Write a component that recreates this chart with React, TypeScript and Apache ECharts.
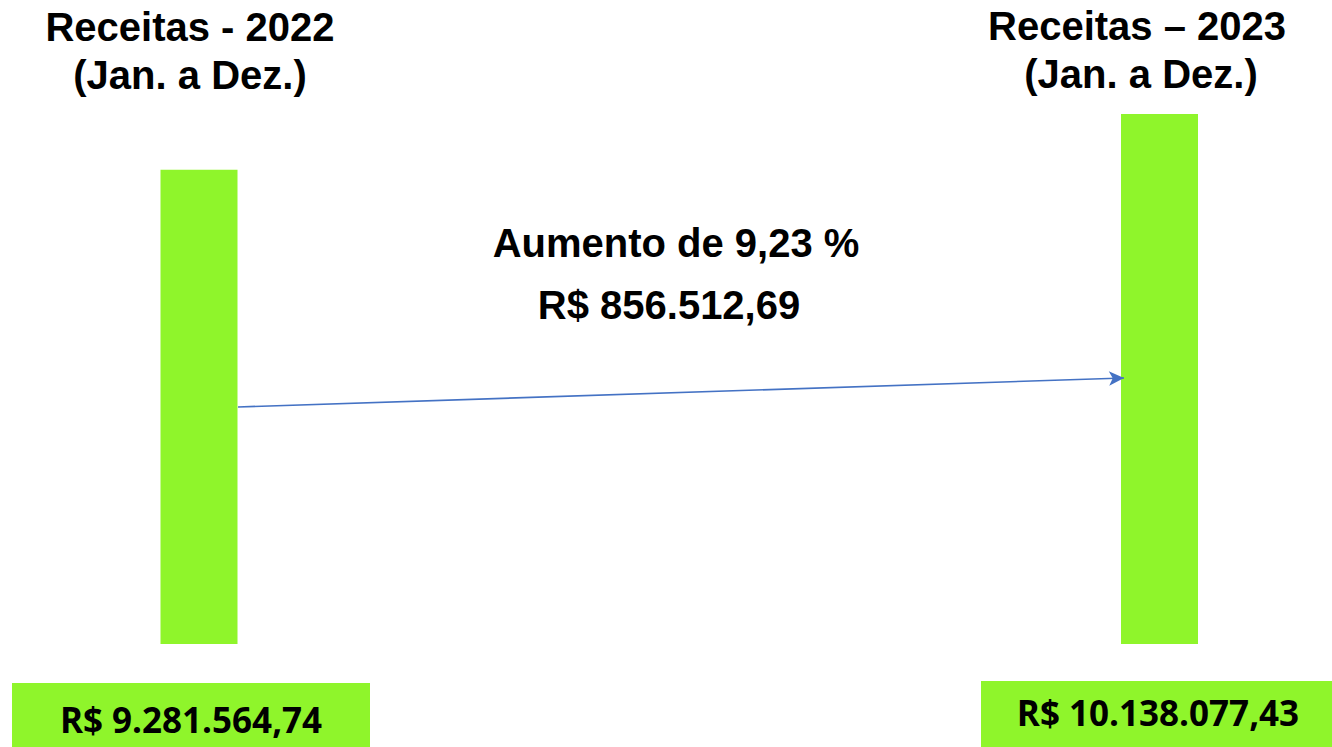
import React, { useEffect, useRef } from "react";
import * as echarts from "echarts";

const categories = ["Receitas - 2022", "Receitas – 2023"];
const revenues = [9281564.74, 10138077.43];
const valueLabels = ["R$ 9.281.564,74", "R$ 10.138.077,43"];
const periodLabel = "(Jan. a Dez.)";
const increaseLines = ["Aumento de 9,23 %", "R$ 856.512,69"];

const GREEN = "#8ff52b";
const TITLE_FONT = "'Liberation Sans', Arial, sans-serif";
const VALUE_FONT = "'Open Sans', 'Noto Sans', sans-serif";

export default function App() {
  const ref = useRef<HTMLDivElement>(null);

  useEffect(() => {
    if (!ref.current) return;
    const chart = echarts.init(ref.current, null, { renderer: "svg" });

    const titleStyle = (text: string) => ({
      text,
      fill: "#000",
      font: `bold 40px ${TITLE_FONT}`,
      textAlign: "center",
      textVerticalAlign: "middle",
    });
    const valueStyle = (text: string) => ({
      text,
      fill: "#000",
      font: `bold 35px ${VALUE_FONT}`,
      textAlign: "center",
      textVerticalAlign: "middle",
    });

    chart.setOption({
      animation: false,
      backgroundColor: "#ffffff",
      grid: { left: 199, right: 172.5, top: 114, bottom: 103, containLabel: false },
      xAxis: {
        type: "category",
        data: categories,
        boundaryGap: false,
        show: false,
      },
      yAxis: {
        type: "value",
        min: 2000000,
        max: "dataMax",
        show: false,
        splitLine: { show: false },
      },
      series: [
        {
          type: "bar",
          data: revenues,
          barWidth: 77,
          z: 1,
          itemStyle: { color: GREEN },
          markLine: {
            silent: true,
            z: 5,
            symbol: ["none", "arrow"],
            symbolSize: [11, 15],
            label: { show: false },
            lineStyle: { color: "#4472c4", width: 1.6, type: "solid" },
            data: [[{ x: 238, y: 407 }, { x: 1124, y: 378 }]],
          },
        },
      ],
      graphic: [
        { type: "text", x: 190, y: 27, style: titleStyle(categories[0]) },
        { type: "text", x: 190, y: 75, style: titleStyle(periodLabel) },
        { type: "text", x: 1137, y: 26, style: titleStyle(categories[1]) },
        { type: "text", x: 1141, y: 74, style: titleStyle(periodLabel) },
        { type: "text", x: 676, y: 243, style: titleStyle(increaseLines[0]) },
        { type: "text", x: 669, y: 305, style: titleStyle(increaseLines[1]) },
        {
          type: "rect",
          shape: { x: 12, y: 683, width: 358, height: 64 },
          style: { fill: GREEN },
        },
        {
          type: "rect",
          shape: { x: 981, y: 681, width: 351, height: 66 },
          style: { fill: GREEN },
        },
        { type: "text", x: 191, y: 719, style: valueStyle(valueLabels[0]) },
        { type: "text", x: 1158, y: 712, style: valueStyle(valueLabels[1]) },
      ],
    });

    return () => chart.dispose();
  }, []);

  return (
    <div
      ref={ref}
      style={{ position: "fixed", left: 0, top: 0, width: 1332, height: 747 }}
    />
  );
}
